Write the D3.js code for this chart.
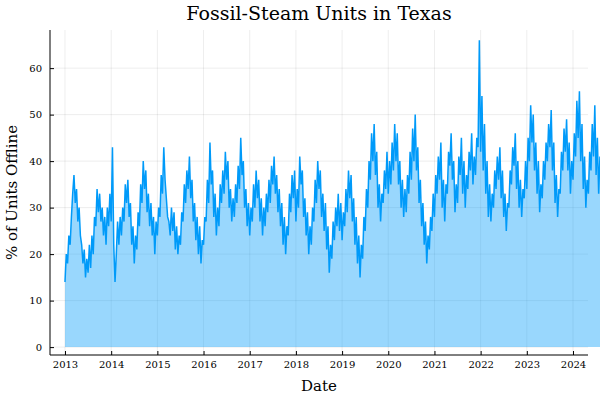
<!DOCTYPE html>
<html><head><meta charset="utf-8">
<script src="https://cdn.jsdelivr.net/npm/d3@7"></script>
<style>body{margin:0;background:#fff}text{font-family:"DejaVu Serif","Liberation Serif",serif}</style>
</head><body><svg id="c" width="600" height="400"></svg>
<script>
const firstYear = 2013
const perYear = 36
// ~10-day samples, one row per year (2013..2023)
const values = [
  14,20,18,24,22,28,33,37,31,34,27,30,24,22,18,21,15,19,16,22,17,24,20,28,26,34,29,33,27,30,24,28,22,30,26,33,
  27,43,22,14,20,27,22,28,24,30,27,35,31,36,28,31,22,26,18,24,21,29,26,35,31,40,34,38,29,33,26,31,24,28,20,27,
  24,30,28,37,33,43,36,32,28,27,24,30,25,29,21,26,20,24,22,29,27,35,31,38,34,41,32,36,27,31,23,28,20,26,18,23,
  22,28,27,36,31,44,35,38,28,33,24,30,26,35,31,38,33,42,36,40,30,34,27,32,28,35,31,39,34,45,37,40,30,34,26,31,
  24,30,27,35,30,38,32,36,27,32,24,30,26,33,29,36,31,39,35,41,33,37,29,34,26,31,22,28,20,26,24,33,29,37,32,38,
  27,34,30,41,35,38,28,32,24,29,20,26,22,30,27,36,31,40,34,38,28,33,25,31,21,26,16,22,19,27,23,30,26,33,25,31,
  23,29,26,34,29,38,32,37,27,32,22,28,18,24,15,22,19,28,25,34,30,40,36,46,40,48,37,42,30,35,27,33,31,38,34,42,
  33,40,35,44,38,48,40,46,35,40,30,36,28,34,29,37,33,42,36,47,40,50,38,43,31,36,26,31,22,27,18,24,21,28,25,33,
  28,37,33,41,36,44,30,36,27,35,33,42,39,46,36,40,29,35,31,41,37,45,33,40,30,37,34,42,38,46,35,41,37,45,43,66,
  42,54,38,48,33,40,28,35,27,33,30,38,34,41,36,43,32,38,28,33,25,31,30,38,35,43,39,46,34,40,30,36,28,34,32,40,
  34,45,40,52,44,50,38,44,33,40,29,35,32,40,36,44,40,48,43,51,38,44,31,37,28,34,33,42,38,47,42,49,38,44,33,40,
  36,46,41,53,45,55,40,48,34,41,30,36,33,42,38,48,41,52,37,45,33,41,39,50,45,56,50,60,47,55,44,52,40,45,35,32
]
const yTicks = [0, 10, 20, 30, 40, 50, 60]
const xTicks = d3.range(2013, 2025)

const W = 600, H = 400
const m = {l: 50, r: 12, t: 30, b: 45}
const svg = d3.select('#c')
// t = fractional year
const data = values.map((v, i) => ({t: firstYear + i / perYear, v}))

const x = d3.scaleLinear().domain([2013 - 15 / 46.2, 2024 + 15 / 46.2]).range([m.l, W - m.r])
const y = d3.scaleLinear().domain([-1.7, 68.2]).range([H - m.b, m.t])

svg.append('g').selectAll('line').data(yTicks).join('line')
  .attr('x1', m.l).attr('x2', W - m.r).attr('y1', y).attr('y2', y)
  .attr('stroke', '#000').attr('stroke-opacity', 0.07)
svg.append('g').selectAll('line').data(xTicks).join('line')
  .attr('x1', x).attr('x2', x).attr('y1', m.t).attr('y2', H - m.b)
  .attr('stroke', '#000').attr('stroke-opacity', 0.07)

svg.append('path').datum(data)
  .attr('d', d3.area().x(d => x(d.t)).y0(y(0)).y1(d => y(d.v)))
  .attr('fill', '#009af9').attr('fill-opacity', 0.4)
svg.append('path').datum(data)
  .attr('d', d3.line().x(d => x(d.t)).y(d => y(d.v)))
  .attr('fill', 'none').attr('stroke', '#009af9').attr('stroke-width', 1.5)

const ax = svg.append('g').attr('transform', `translate(0,${H - m.b})`)
  .call(d3.axisBottom(x).tickValues(xTicks).tickFormat(d3.format('d')).tickSize(-4).tickPadding(6))
const ay = svg.append('g').attr('transform', `translate(${m.l},0)`)
  .call(d3.axisLeft(y).tickValues(yTicks).tickSize(-4).tickPadding(8))
ax.select('.domain').attr('d', `M${m.l},0H${W - m.r}`)
ay.select('.domain').attr('d', `M0,${m.t}V${H - m.b}`)
svg.selectAll('.tick text').attr('font-size', 10).attr('font-family', 'DejaVu Serif')

svg.append('text').attr('x', (m.l + W - m.r) / 2).attr('y', 20).attr('text-anchor', 'middle')
  .attr('font-size', 19).text('Fossil-Steam Units in Texas')
svg.append('text').attr('x', (m.l + W - m.r) / 2).attr('y', 391).attr('text-anchor', 'middle')
  .attr('font-size', 15).text('Date')
svg.append('text').attr('transform', `translate(17,${(m.t + H - m.b) / 2}) rotate(-90)`)
  .attr('text-anchor', 'middle').attr('font-size', 15).text('% of Units Offline')
</script></body></html>
